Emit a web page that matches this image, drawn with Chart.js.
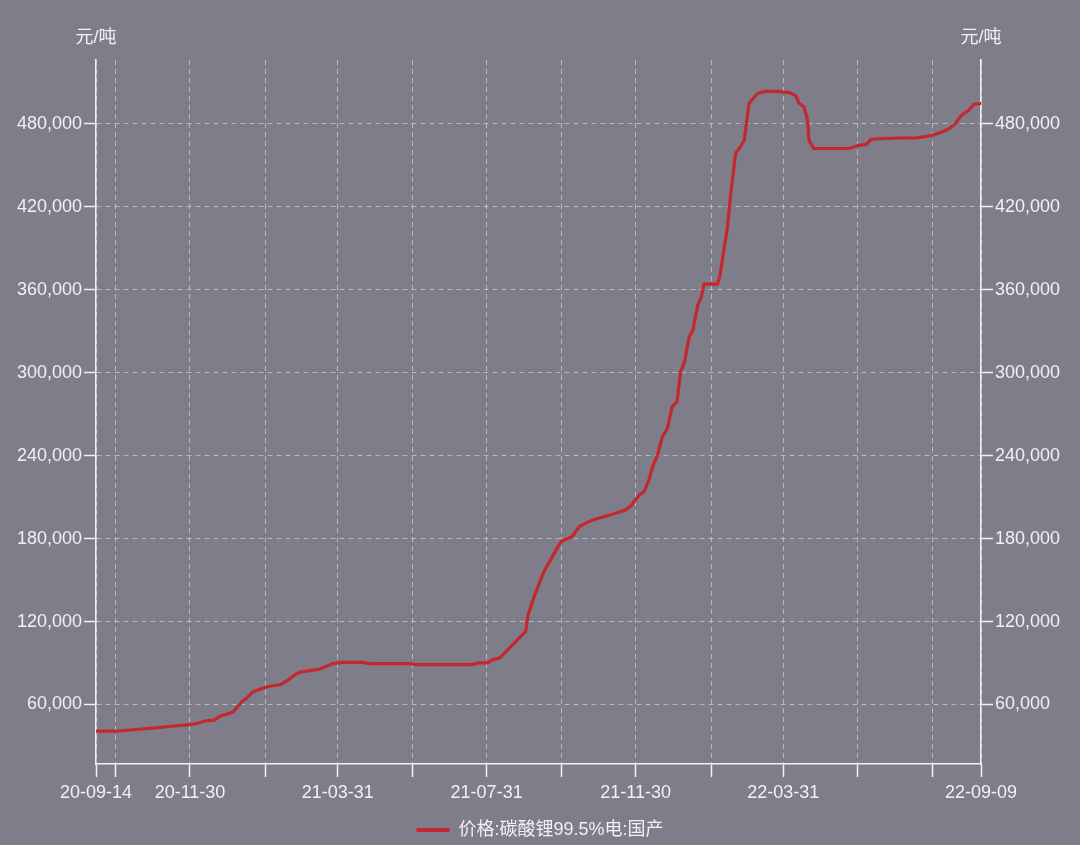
<!DOCTYPE html>
<html>
<head>
<meta charset="utf-8">
<title>碳酸锂价格</title>
<script src="https://cdn.jsdelivr.net/npm/chart.js@4.4.1/dist/chart.umd.min.js"></script>
<style>
	html, body { margin: 0; padding: 0; background: #7e7d89; }
	#wrap { width: 1080px; height: 845px; position: relative; }
</style>
</head>
<body>
<div id="wrap"><canvas id="priceChart"></canvas></div>
<script>
const seriesName = '价格:碳酸锂99.5%电:国产';
const unitLabel = '元/吨';

// dates (yy-mm-dd) and prices
const dates = [
	'20-09-14', '20-09-30', '20-10-09', '20-10-28', '20-11-13', '20-11-30', '20-12-05', '20-12-14',
	'20-12-20', '20-12-24', '21-01-04', '21-01-12', '21-01-14', '21-01-20', '21-01-22', '21-01-29',
	'21-02-03', '21-02-12', '21-02-18', '21-02-24', '21-03-01', '21-03-08', '21-03-15', '21-03-22',
	'21-03-27', '21-04-04', '21-04-20', '21-04-26', '21-05-29', '21-06-03', '21-07-19', '21-07-25',
	'21-08-01', '21-08-05', '21-08-11', '21-08-16', '21-08-24', '21-09-01', '21-09-03', '21-09-08',
	'21-09-16', '21-09-23', '21-09-30', '21-10-09', '21-10-15', '21-10-23', '21-10-31', '21-11-10',
	'21-11-22', '21-11-27', '21-12-03', '21-12-07', '21-12-11', '21-12-14', '21-12-18', '21-12-22',
	'21-12-26', '21-12-30', '22-01-03', '22-01-06', '22-01-09', '22-01-13', '22-01-16', '22-01-20',
	'22-01-23', '22-01-25', '22-02-05', '22-02-07', '22-02-11', '22-02-13', '22-02-16', '22-02-20',
	'22-02-23', '22-02-27', '22-03-03', '22-03-10', '22-03-17', '22-03-28', '22-04-05', '22-04-10',
	'22-04-13', '22-04-17', '22-04-20', '22-04-21', '22-04-25', '22-05-24', '22-06-01', '22-06-07',
	'22-06-11', '22-06-20', '22-07-04', '22-07-18', '22-07-31', '22-08-08', '22-08-14', '22-08-19',
	'22-08-24', '22-08-30', '22-09-03', '22-09-07', '22-09-09'
];
const prices = [
	40700, 40700, 41400, 42700, 44100, 45500, 46300, 48400,
	48700, 51300, 54400, 62400, 63600, 68700, 69600, 72000,
	73200, 74400, 77500, 81600, 83600, 84500, 85300, 87700,
	89600, 90500, 90500, 89600, 89600, 88900, 88900, 90100,
	90100, 92500, 93700, 98500, 105700, 112900, 125000, 138200,
	156300, 167100, 177900, 181500, 188700, 192400, 194800, 197200,
	200800, 204400, 211600, 214000, 222500, 232000, 240500, 253700,
	259300, 275400, 279000, 300700, 307200, 325900, 330800, 348800,
	354800, 364000, 364000, 369300, 392100, 403000, 429500, 458600,
	462200, 467900, 494700, 501900, 503500, 503100, 502400, 500400,
	494700, 492000, 482400, 468000, 462000, 462000, 464300, 465000,
	468700, 469200, 469600, 469600, 471500, 473900, 476400, 480000,
	486000, 489600, 493900, 494400, 494400
];

const gridDates = [
	'20-09-14', '20-09-30', '20-11-30', '21-01-31', '21-03-31', '21-05-31', '21-07-31',
	'21-09-30', '21-11-30', '22-01-31', '22-03-31', '22-05-31', '22-07-31', '22-09-09'
];
const labelDates = ['20-09-14', '20-11-30', '21-03-31', '21-07-31', '21-11-30', '22-03-31', '22-09-09'];
const yTicks = [60000, 120000, 180000, 240000, 300000, 360000, 420000, 480000];
const yMin = 17000;
const yMax = 526000;

const textColor = '#f1f1f3';
const lineColor = '#c4272e';
const gridColor = 'rgba(222, 222, 228, 0.6)';
const fontFamily = '"Liberation Sans", "Noto Sans CJK SC", sans-serif';

function toDay(s) {
	const [yy, mm, dd] = s.split('-').map(Number);
	return Math.round((Date.UTC(2000 + yy, mm - 1, dd) - Date.UTC(2020, 8, 14)) / 86400000);
}

const labelMap = {};
labelDates.forEach(d => { labelMap[toDay(d)] = d; });

const points = dates.map((d, i) => ({ x: toDay(d), y: prices[i] }));

const unitTitles = {
	id: 'unitTitles',
	afterDraw(chart) {
		const ctx = chart.ctx;
		const area = chart.chartArea;
		ctx.save();
		ctx.font = '18px ' + fontFamily;
		ctx.fillStyle = textColor;
		ctx.textAlign = 'center';
		ctx.textBaseline = 'middle';
		ctx.fillText(unitLabel, area.left, 38);
		ctx.fillText(unitLabel, area.right, 38);
		ctx.restore();
	}
};

function yAxis(position, width) {
	return {
		type: 'linear',
		position: position,
		min: yMin,
		max: yMax,
		afterBuildTicks: scale => { scale.ticks = yTicks.map(v => ({ value: v })); },
		afterFit: scale => { scale.width = width; },
		ticks: {
			color: textColor,
			padding: 2,
			font: { family: fontFamily, size: 18 },
			callback: v => v.toLocaleString('en-US')
		},
		grid: {
			color: gridColor,
			drawOnChartArea: position === 'left',
			tickColor: textColor,
			tickLength: 12,
			tickWidth: 1.5
		},
		border: { color: textColor, width: 1.5, dash: [5, 4] }
	};
}

new Chart(document.getElementById('priceChart').getContext('2d'), {
	type: 'line',
	data: {
		datasets: [{
			label: seriesName,
			data: points,
			borderColor: lineColor,
			backgroundColor: lineColor,
			borderWidth: 3.2,
			pointRadius: 0,
			tension: 0,
			yAxisID: 'y'
		}]
	},
	options: {
		responsive: true,
		maintainAspectRatio: false,
		animation: false,
		layout: { padding: { top: 60, left: 0, right: 0, bottom: -4 } },
		scales: {
			x: {
				type: 'linear',
				min: 0,
				max: toDay('22-09-09'),
				afterBuildTicks: scale => { scale.ticks = gridDates.map(d => ({ value: toDay(d) })); },
				afterFit: scale => { scale.height = 47; },
				ticks: {
					color: textColor,
					autoSkip: false,
					maxRotation: 0,
					padding: 5,
					font: { family: fontFamily, size: 18 },
					callback: v => labelMap[v] || ''
				},
				grid: {
					color: gridColor,
					tickColor: textColor,
					tickLength: 13,
					tickWidth: 1.5
				},
				border: { color: textColor, width: 1.5, dash: [5, 4] }
			},
			y: yAxis('left', 96),
			y2: yAxis('right', 99)
		},
		plugins: {
			legend: {
				position: 'bottom',
				labels: {
					color: textColor,
					font: { family: fontFamily, size: 18 },
					boxWidth: 33,
					boxHeight: 4,
					padding: 10,
					generateLabels: chart => chart.data.datasets.map((ds, i) => ({
						text: ds.label,
						fillStyle: lineColor,
						strokeStyle: lineColor,
						lineWidth: 0,
						fontColor: textColor,
						datasetIndex: i
					}))
				}
			},
			tooltip: { enabled: false }
		}
	},
	plugins: [unitTitles]
});
</script>
</body>
</html>
